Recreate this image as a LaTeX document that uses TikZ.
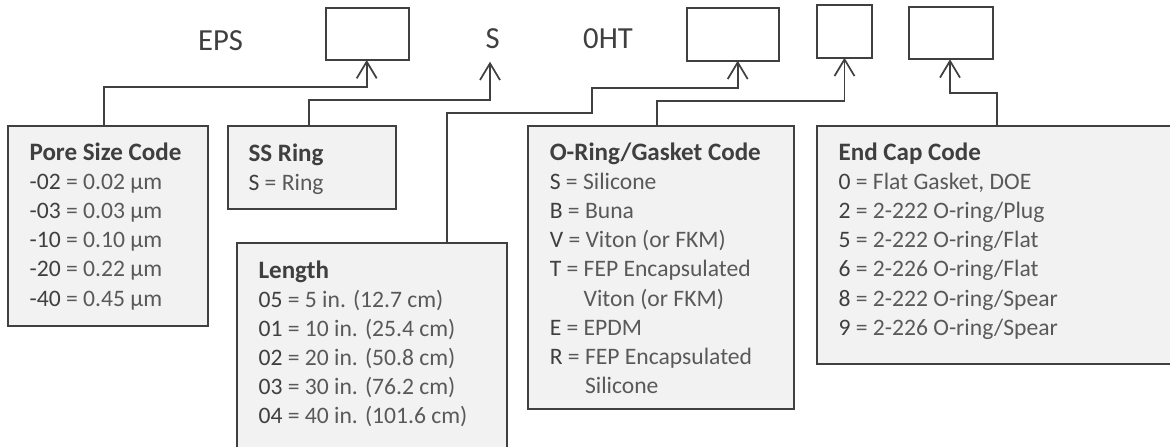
\documentclass[tikz,border=0pt]{standalone}
\usepackage{fontspec}
\setmainfont{Carlito}
\usetikzlibrary{arrows.meta}
\definecolor{ln}{HTML}{404040}
\definecolor{tx}{HTML}{3F3F3F}
\definecolor{lt}{HTML}{595959}
\definecolor{pf}{HTML}{F2F2F2}
\newcommand{\bodysize}{\fontsize{17.7}{21.8}\selectfont}
\newcommand{\cd}[2]{{\color{tx}#1} {\color{lt}= #2}}
\newcommand{\ttl}[1]{{\color{tx}\fontsize{18.8}{21.8}\selectfont\bfseries #1}}
\begin{document}
\begin{tikzpicture}[x=0.75pt,y=-0.75pt,
  panel/.style={draw=ln,fill=pf,line width=1.3pt,inner sep=0pt,outer sep=0pt,anchor=north west},
  slot/.style={draw=ln,fill=white,line width=1.3pt,inner sep=0pt,outer sep=0pt,anchor=north west},
  conn/.style={draw=ln,line width=1.3pt,-{Straight Barb[length=12.5pt,width=15pt]}},
  lbl/.style={font=\fontsize{23}{27}\selectfont,text=tx,inner sep=0pt,anchor=base},
  txt/.style={font=\bodysize,text=lt,inner sep=0pt,anchor=base west}]
\useasboundingbox (0,0) rectangle (1170,446);

% top slots
\node[slot,minimum width=83*0.75pt,minimum height=51.7*0.75pt] (box1) at (326,8.3) {};
\node[slot,minimum width=92*0.75pt,minimum height=52.4*0.75pt] (box2) at (687.3,8.3) {};
\node[slot,minimum width=54.4*0.75pt,minimum height=52.7*0.75pt] (box3) at (817.3,5) {};
\node[slot,minimum width=83.4*0.75pt,minimum height=52.6*0.75pt] (box4) at (909.3,6.7) {};

% top labels
\node[lbl] (eps) at (220.5,50.5) {EPS};
\node[lbl] (slabel) at (492.7,48.3) {S};
\node[lbl] (oht) at (608,48.3) {0HT};
\coordinate (stip) at (490,61.7);

% panels
\node[panel,minimum width=199.4*0.75pt,minimum height=199.7*0.75pt] (pore) at (8.3,126) {};
\node[panel,minimum width=168*0.75pt,minimum height=83.3*0.75pt] (ss) at (227.7,126) {};
\node[panel,minimum width=270*0.75pt,minimum height=217*0.75pt] (len) at (236.7,243.3) {};
\node[panel,minimum width=266*0.75pt,minimum height=283*0.75pt] (oring) at (528.3,126) {};
\node[panel,minimum width=363*0.75pt,minimum height=238.3*0.75pt] (endcap) at (817.3,126) {};

% panel texts
\node[txt] (poretxt) at (29.3,160.7) {\parbox[t]{200pt}{\leavevmode\ttl{Pore Size Code}\\
\cd{-02}{0.02 µm}\\
\cd{-03}{0.03 µm}\\
\cd{-10}{0.10 µm}\\
\cd{-20}{0.22 µm}\\
\cd{-40}{0.45 µm}}};

\node[txt] (sstxt) at (248.3,161.5) {\parbox[t]{200pt}{\leavevmode\ttl{SS Ring}\\
\cd{S}{Ring}}};

\node[txt] (lentxt) at (258.3,278) {\parbox[t]{240pt}{\leavevmode\ttl{Length}\\
\cd{05}{5 in. (12.7 cm)}\\
\cd{01}{10 in. (25.4 cm)}\\
\cd{02}{20 in. (50.8 cm)}\\
\cd{03}{30 in. (76.2 cm)}\\
\cd{04}{40 in. (101.6 cm)}}};

\node[txt] (oringtxt) at (549.5,160.7) {\parbox[t]{240pt}{\leavevmode\ttl{O-Ring/Gasket Code}\\
\cd{S}{Silicone}\\
\cd{B}{Buna}\\
\cd{V}{Viton (or FKM)}\\
\cd{T}{FEP Encapsulated}\\
\hphantom{T = }Viton (or FKM)\\
\cd{E}{EPDM}\\
\cd{R}{FEP Encapsulated}\\
\hphantom{R = }Silicone}};

\node[txt] (endtxt) at (838.3,160.7) {\parbox[t]{260pt}{\leavevmode\ttl{End Cap Code}\\
\cd{0}{Flat Gasket, DOE}\\
\cd{2}{2-222 O-ring/Plug}\\
\cd{5}{2-222 O-ring/Flat}\\
\cd{6}{2-226 O-ring/Flat}\\
\cd{8}{2-222 O-ring/Spear}\\
\cd{9}{2-226 O-ring/Spear}}};

% connectors
\draw[conn] ([xshift=-2.8pt]pore.north) -- ++(0,-39.3) -| ([xshift=-0.6pt]box1.south);
\draw[conn] ([xshift=-2pt]ss.north) -- ++(0,-25.7) -| (stip);
\draw[conn] ([xshift=210*0.75pt]len.north west) -- ++(0,-130) -- ++(145.6,0) -- ++(0,-25.6) -| ([xshift=3.3pt]box2.south);
\draw[conn] ([xshift=128.4*0.75pt]oring.north west) -- ++(0,-25.3) -| (box3.south);
\draw[conn] ([xshift=179.4*0.75pt]endcap.north west) -- ++(0,-33.3) -| ([xshift=-0.75pt]box4.south);
\end{tikzpicture}
\end{document}
